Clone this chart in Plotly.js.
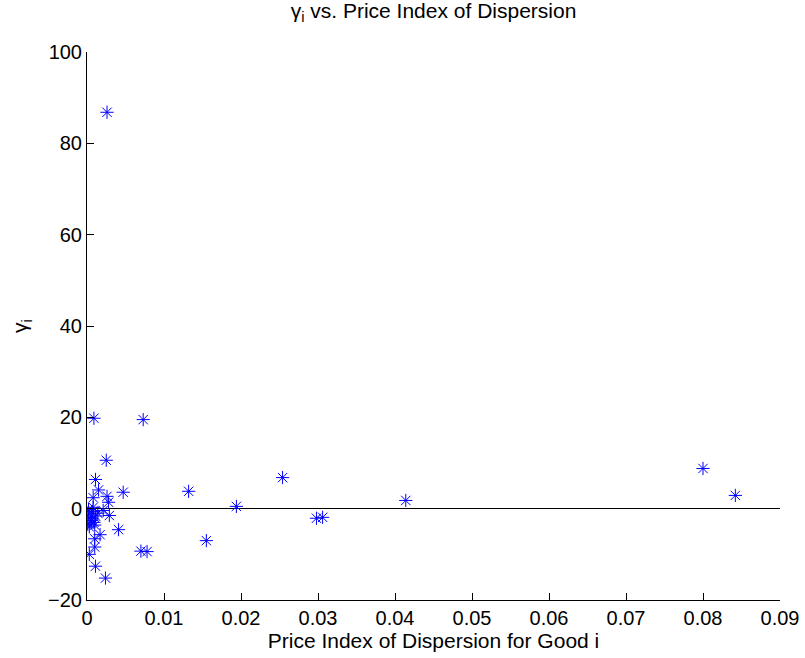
<!DOCTYPE html>
<html>
<head>
<meta charset="utf-8">
<script src="https://cdn.plot.ly/plotly-3.0.1.min.js"></script>
<style>html,body{margin:0;padding:0;background:#fff;}#chart{width:805px;height:658px;}</style>
</head>
<body>
<div id="chart"></div>
<script>
const dispersion = [
  0.0026, 0.0009, 0.0073, 0.0025, 0.0011, 0.0015, 0.0008, 0.0026, 0.0028, 0.0047,
  0.0029, 0.0041, 0.0017, 0.0010, 0.0010, 0.0003, 0.0011, 0.0024, 0.0070, 0.0078,
  0.0021, 0.0002, 0.0004, 0.0007, 0.0009, 0.0003, 0.0011, 0.0006, 0.0014, 0.0001,
  0.0008, 0.0005, 0.0002, 0.0010,
  0.0132, 0.0155, 0.0194, 0.0254, 0.0298, 0.0306, 0.0414, 0.0800, 0.0842
];
const gamma = [
  86.8, 19.8, 19.5, 10.6, 6.4, 4.1, 2.4, 2.7, 1.4, 3.6,
  -1.5, -4.6, -5.7, -6.6, -8.4, -10.0, -12.6, -15.2, -9.3, -9.4,
  -0.4, -1.0, -2.0, -0.6, -3.0, -4.0, -1.6, -2.6, -1.0, -3.4,
  0.3, -2.2, -0.2, -3.6,
  3.8, -7.0, 0.5, 6.8, -2.1, -1.9, 1.8, 8.8, 2.9
];
const xTicks = [0, 0.01, 0.02, 0.03, 0.04, 0.05, 0.06, 0.07, 0.08, 0.09];
const xTickText = ['0', '0.01', '0.02', '0.03', '0.04', '0.05', '0.06', '0.07', '0.08', '0.09'];
const yTicks = [-20, 0, 20, 40, 60, 80, 100];
const yTickText = ['\u221220', '0', '20', '40', '60', '80', '100'];

const family = 'Liberation Sans, Arial, sans-serif';
const tickFont = {family: family, size: 20, color: '#000'};
const labelFont = {family: family, size: 21, color: '#000'};

Plotly.newPlot('chart', [{
  x: dispersion,
  y: gamma,
  type: 'scatter',
  mode: 'markers',
  marker: {symbol: 'asterisk-open', size: 11, color: '#0000ff', line: {color: '#0000ff', width: 1}},
  hoverinfo: 'x+y'
}], {
  width: 805,
  height: 658,
  margin: {l: 87, r: 25, t: 52, b: 58},
  paper_bgcolor: '#fff',
  plot_bgcolor: '#fff',
  font: tickFont,
  showlegend: false,
  title: {text: '\u03b3<sub>i</sub> vs. Price Index of Dispersion', font: labelFont, xref: 'paper', x: 0.5, xanchor: 'center', yref: 'container', y: 0.995, yanchor: 'top'},
  xaxis: {
    range: [0, 0.09],
    tickvals: xTicks,
    ticktext: xTickText,
    ticks: 'inside',
    ticklen: 7,
    tickcolor: '#000',
    showline: true,
    linecolor: '#000',
    linewidth: 1,
    mirror: false,
    showgrid: false,
    zeroline: false,
    tickfont: tickFont,
    title: {text: 'Price Index of Dispersion for Good i', font: labelFont, standoff: 2}
  },
  yaxis: {
    range: [-20, 100],
    tickvals: yTicks,
    ticktext: yTickText,
    ticks: 'inside',
    ticklen: 7,
    tickcolor: '#000',
    showline: true,
    linecolor: '#000',
    linewidth: 1,
    mirror: false,
    showgrid: false,
    zeroline: true,
    zerolinecolor: '#000',
    zerolinewidth: 1,
    tickfont: tickFont,
    title: {text: '\u03b3<sub>i</sub>', font: labelFont, standoff: 14}
  }
}, {displayModeBar: false, staticPlot: true});
</script>
</body>
</html>
